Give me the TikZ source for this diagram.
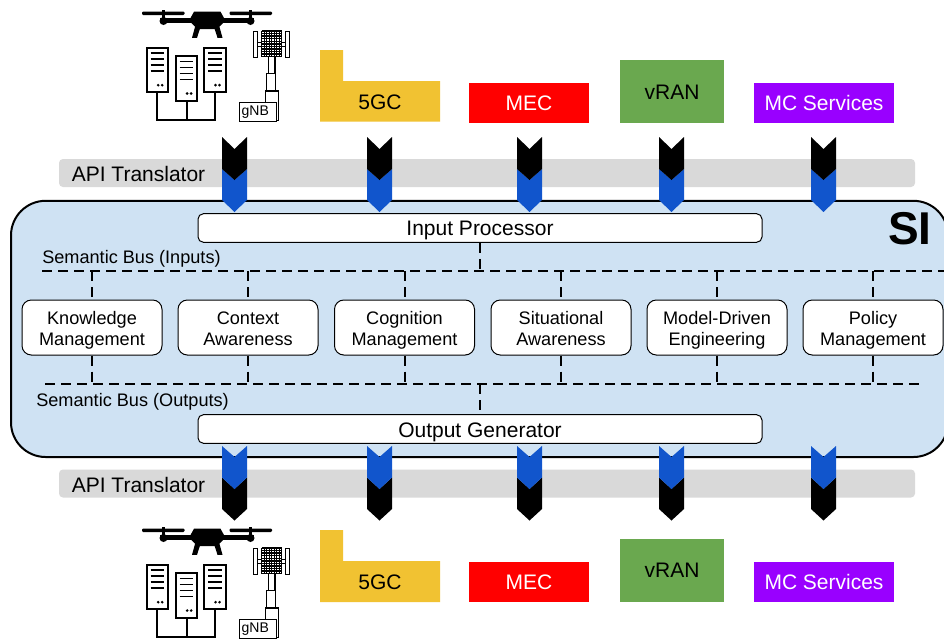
\documentclass[tikz,border=0pt]{standalone}
\usepackage{fontspec}
\setmainfont{Liberation Sans}
\definecolor{sibg}{HTML}{CFE2F3}
\definecolor{apigray}{HTML}{D9D9D9}
\definecolor{chevblue}{HTML}{1155CC}
\definecolor{coreyellow}{HTML}{F1C232}
\definecolor{rangreen}{HTML}{6AA84F}
\definecolor{mcpurple}{HTML}{9900FF}
\newcommand{\txtL}{\fontsize{15.75}{15.75}\selectfont}
\newcommand{\txtM}{\fontsize{13.6}{15.75}\selectfont}
\newcommand{\txtS}{\fontsize{10.5}{12}\selectfont}
\newcommand{\topln}{\rule{0pt}{14.5pt}}
\newcommand{\botln}{\rule[-4pt]{0pt}{4pt}}
\tikzset{
  x=0.75pt,y=-0.75pt,
  modbox/.style={draw=black,line width=0.75pt,fill=white,rounded corners=7pt,minimum width=105pt,minimum height=41.25pt,inner sep=0pt,align=center,font=\txtM},
  procbox/.style={draw=black,line width=0.75pt,fill=white,rounded corners=4pt,minimum width=423pt,minimum height=21.4pt,inner sep=0pt,font=\txtL,text height=11.2pt,text depth=0pt},
  colbox/.style={minimum height=30pt,inner sep=0pt,font=\txtL},
  plain/.style={inner sep=0pt,anchor=west},
  bus/.style={line width=1.5pt,dash pattern=on 7.2pt off 4.8pt},
  drop/.style={line width=1.5pt,dash pattern=on 7.5pt off 4.5pt},
  icon/.style={line width=1.5pt,draw=black},
  icons/.pic={
    % drone
    \fill[black,rounded corners=0.8pt] (142,11.5) rectangle (184.5,15);
    \fill[black,rounded corners=0.8pt] (229.5,11.5) rectangle (272,15);
    \fill[black] (162,10) rectangle (165,20);
    \fill[black] (249,10) rectangle (252,20);
    \fill[black] (160,17.5) rectangle (254,22.5);
    \fill[black] (163.5,21) circle[radius=3pt];
    \fill[black] (250.5,21) circle[radius=3pt];
    \fill[black] (194,11.7) -- (220.5,11.7) -- (224,18) -- (224,22) -- (217,29) -- (197.5,29) -- (190.5,22) -- (190.5,18) -- cycle;
    \fill[black] (195,27) -- (200.5,27) -- (197,37.8) -- (192,37.8) -- cycle;
    \fill[black] (214,27) -- (219.5,27) -- (222.5,37.8) -- (217.5,37.8) -- cycle;
    % servers
    \draw[icon] (157,92) -- (157,120) -- (215,120) -- (215,92);
    \draw[icon] (186.5,100.7) -- (186.5,120);
    \foreach \sx/\sy in {146.7/47.7,175.7/56,204/47.7}{
      \draw[icon,fill=white] (\sx,\sy) rectangle ++(21.5,44.5);
      \foreach \r in {5.5,11.5,17.5,23.5}{
        \draw[black,line width=1.2pt] ($(\sx,\sy)+(4,\r)$) -- ++(13.5,0);
      }
      \fill[black] ($(\sx,\sy)+(11.5,37.5)$) circle[radius=1.1pt];
      \fill[black] ($(\sx,\sy)+(15.5,37.5)$) circle[radius=1.1pt];
    }
    % tower
    \draw[black,line width=0.75pt,fill=white] (265.7,90.7) rectangle (278.3,120.5);
    \draw[black,line width=0.9pt,fill=white] (266.7,73.3) rectangle (275.7,90.7);
    \draw[black,line width=0.9pt,fill=white] (268.3,56.7) rectangle (275,73.3);
    \draw[black,line width=1.5pt] (265.7,90.7) -- (278.3,90.7);
    \draw[black,line width=0.75pt,fill=white] (253.3,31) rectangle (257.3,57);
    \draw[black,line width=0.75pt,fill=white] (285.7,31) rectangle (289.7,57);
    \draw[black,line width=0.75pt,fill=white] (257.3,42) rectangle (285.7,46);
    \fill[white] (261.7,31) rectangle (281.7,56.7);
    \foreach \gi in {0,...,8}{
      \draw[black,line width=1pt] (261.7+2.5*\gi,31) -- (261.7+2.5*\gi,56.7);
    }
    \foreach \gj in {0,...,10}{
      \draw[black,line width=1pt] (261.7,31+2.57*\gj) -- (281.7,31+2.57*\gj);
    }
    \node[draw=black,line width=0.6pt,fill=white,text width=24.2pt,inner xsep=2pt,inner ysep=0pt,minimum height=14.2pt,align=left,font=\txtS] (gnb) at (257.8,112.2) {gNB};
  }
}
\usetikzlibrary{calc}
\begin{document}
\begin{tikzpicture}
\clip (0,0) rectangle (944,640);
\fill[white] (0,0) rectangle (944,640);

% icons
\pic (top) at (0,0) {icons};
\pic (bot) at (0,517) {icons};

% coloured blocks, top
\fill[coreyellow] (320,50) -- (343,50) -- (343,81) -- (440,81) -- (440,121.5) -- (320,121.5) -- cycle;
\node[font=\txtL,inner sep=0pt] (coreT) at (380,102.3) {5GC};
\node[colbox,fill=red,text=white,minimum width=90pt] (mecT) at (529,103) {MEC};
\node[colbox,fill=rangreen,minimum width=78pt,minimum height=47.25pt,text height=12.7pt,text depth=0pt] (ranT) at (672,91.5) {vRAN};
\node[colbox,fill=mcpurple,text=white,minimum width=105pt] (mcT) at (824,103) {MC Services};

% coloured blocks, bottom
\fill[coreyellow] (320,530) -- (343,530) -- (343,561) -- (440,561) -- (440,602) -- (320,602) -- cycle;
\node[font=\txtL,inner sep=0pt] (coreB) at (380,582) {5GC};
\node[colbox,fill=red,text=white,minimum width=90pt] (mecB) at (529,582) {MEC};
\node[colbox,fill=rangreen,minimum width=78pt,minimum height=47.25pt] (ranB) at (672,570.5) {vRAN};
\node[colbox,fill=mcpurple,text=white,minimum width=105pt] (mcB) at (824,582) {MC Services};

% SI container
\draw[line width=1.5pt,fill=sibg,rounded corners=26pt] (11,200.8) rectangle (948,457);
\node[font=\fontsize{34.5}{36}\selectfont\bfseries,inner sep=0pt] (si) at (910,229) {SI};

% API translator bars
\fill[apigray,rounded corners=3pt] (59,159) rectangle (915,187);
\fill[apigray,rounded corners=3pt] (59,469.5) rectangle (915,497.5);
\node[plain,font=\txtL] (apiT) at (71.5,174) {API Translator};
\node[plain,font=\txtL] (apiB) at (71.5,485) {API Translator};

% chevrons
\foreach \cx in {234.5,379.5,529.5,671.5,823.5}{
  \fill[chevblue] (\cx-12.5,169) -- (\cx,180) -- (\cx+12.5,169) -- (\cx+12.5,200) -- (\cx,212) -- (\cx-12.5,200) -- cycle;
  \fill[black] (\cx-12.5,137) -- (\cx,149) -- (\cx+12.5,137) -- (\cx+12.5,169) -- (\cx,180) -- (\cx-12.5,169) -- cycle;
  \fill[black] (\cx-12.5,477.5) -- (\cx,489) -- (\cx+12.5,477.5) -- (\cx+12.5,509) -- (\cx,520.5) -- (\cx-12.5,509) -- cycle;
  \fill[chevblue] (\cx-12.5,446) -- (\cx,457) -- (\cx+12.5,446) -- (\cx+12.5,477.5) -- (\cx,489) -- (\cx-12.5,477.5) -- cycle;
}

% processors
\node[procbox] (input) at (480,228) {Input Processor};
\node[procbox,text height=12.4pt] (output) at (480,429) {Output Generator};

% modules
\node[modbox] (m1) at (92,327.5) {\topln Knowledge\\Management\botln};
\node[modbox] (m2) at (248,327.5) {\topln Context\\Awareness\botln};
\node[modbox] (m3) at (404.5,327.5) {\topln Cognition\\Management\botln};
\node[modbox] (m4) at (561,327.5) {\topln Situational\\Awareness\botln};
\node[modbox] (m5) at (717,327.5) {\topln Model-Driven\\Engineering\botln};
\node[modbox] (m6) at (873,327.5) {\topln Policy\\Management\botln};

% buses
\coordinate (inL) at (42,271);
\coordinate (inR) at (950,271);
\coordinate (outL) at (45,384.3);
\coordinate (outR) at (922,384.3);
\draw[bus] (inL) -- (inR);
\draw[bus] (outL) -- (outR);
\node[plain,font=\txtM] (labIn) at (42,259) {Semantic Bus (Inputs)};
\node[plain,font=\txtM] (labOut) at (36,401.5) {Semantic Bus (Outputs)};

\draw[drop] (input.south) -- (input.south |- inL);
\draw[drop] (output.north |- outL) -- (output.north);
\foreach \m in {m1,m2,m3,m4,m5,m6}{
  \draw[drop] (\m.north |- inL) -- (\m.north);
  \draw[drop] (\m.south) -- (\m.south |- outL);
}
\end{tikzpicture}
\end{document}
